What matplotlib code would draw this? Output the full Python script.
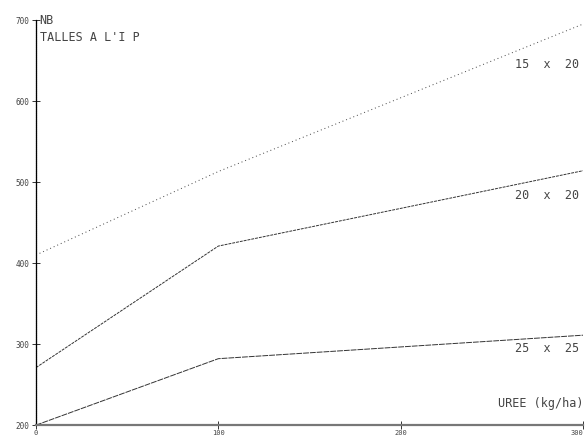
import matplotlib.pyplot as plt

uree = [0, 100, 300]
d15x20 = [410, 513, 695]
d20x20 = [271, 421, 514]
d25x25 = [200, 282, 311]

y_ticks = [200, 300, 400, 500, 600, 700]
x_ticks = [0, 100, 200, 300]

fig = plt.figure(figsize=(5.88, 4.41), dpi=100)
ax = fig.add_axes([0.0612, 0.036, 0.9303, 0.9186])

ax.plot(uree, d15x20, color='#444444', lw=0.7, ls=(0, (1, 3)))
ax.plot(uree, d20x20, color='#333333', lw=0.7, ls=(0, (3, 1)))
ax.plot(uree, d25x25, color='#333333', lw=0.7, ls=(0, (6, 1)))

ax.set_xlim(0, 300)
ax.set_ylim(200, 700)

for s in ['top', 'right']:
    ax.spines[s].set_visible(False)
ax.spines['left'].set_linestyle((0, (1, 0.6)))
ax.spines['left'].set_linewidth(0.9)
ax.spines['bottom'].set_color('#777777')
ax.spines['bottom'].set_linewidth(1.6)

ax.set_yticks(y_ticks)
ax.set_xticks(x_ticks)
ax.set_yticklabels([str(v) for v in y_ticks], fontsize=5.5, color='#444444', family='DejaVu Sans Mono')
ax.set_xticklabels([str(v) for v in x_ticks], fontsize=5, color='#444444', family='DejaVu Sans Mono')
ax.tick_params(axis='both', direction='inout', length=6, width=0.7, pad=2, color='#333333')
ax.tick_params(axis='x', pad=0.5)
ax.get_xticklabels()[-1].set_horizontalalignment('right')

txt = dict(color='#444444', family='DejaVu Sans Mono', fontsize=8.5)
ax.text(2, 700, 'NB', va='center', ha='left', **txt)
ax.text(2, 679, 'TALLES A L\'I P', va='center', ha='left', fontsize=8.5,
        color='#444444', family='DejaVu Sans Mono')
ax.text(298, 645, '15  x  20', va='center', ha='right', **txt)
ax.text(298, 483, '20  x  20', va='center', ha='right', **txt)
ax.text(298, 295, '25  x  25', va='center', ha='right', **txt)
ax.text(300, 227, 'UREE (kg/ha)', va='center', ha='right', **txt)

fig.savefig('out.png', dpi=100)
